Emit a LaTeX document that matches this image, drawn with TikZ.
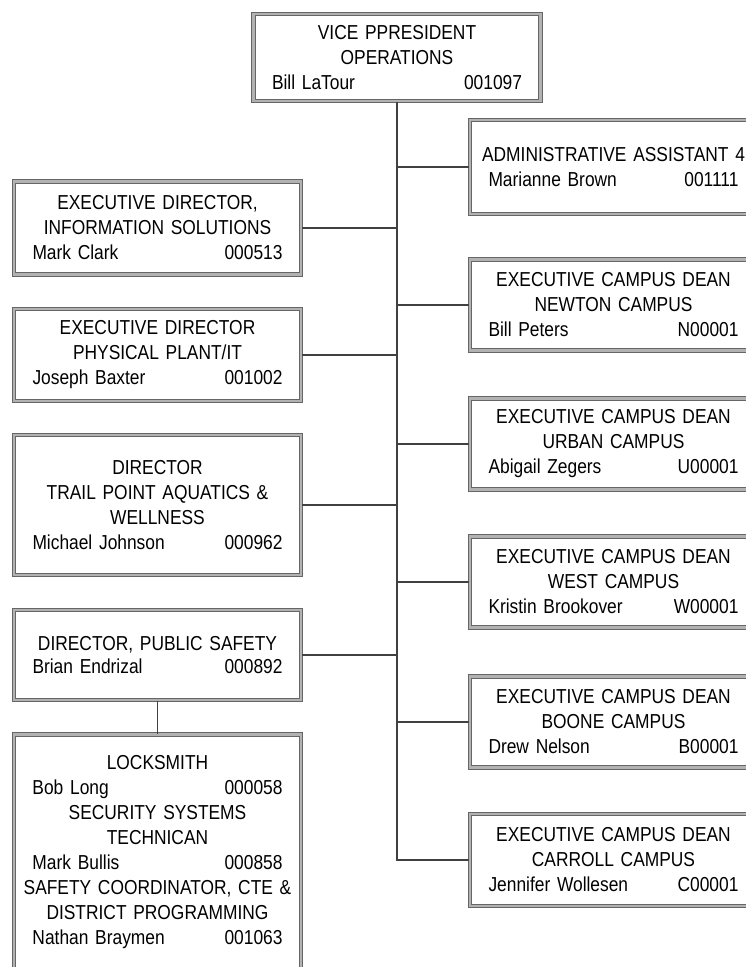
\documentclass[tikz,border=0pt]{standalone}
\usepackage{fontspec}
\setmainfont[FakeStretch=0.86, WordSpace=0.85]{Liberation Sans}
\newcommand\pid[2]{\makebox[250pt]{#1\hfill #2}}
\begin{document}
\begin{tikzpicture}[x=1pt,y=-1pt,
  orgbox/.style={rectangle, draw=black!60, double=black!30, double distance=2.4pt, line width=1.2pt,
    fill=white, minimum width=287pt, inner sep=0pt, text width=272pt, align=center,
    font=\fontsize{20.2}{25}\selectfont},
  link/.style={draw=black!75, line width=1.7pt}]
\useasboundingbox (0,0) rectangle (745,967);
\fill[white] (0,0) rectangle (745,967);

% top
\node[orgbox, minimum height=87pt] (vp) at (397,57.5)
  {VICE PPRESIDENT\\OPERATIONS\\\pid{Bill LaTour}{001097}};

% right column
\node[orgbox, minimum height=94pt] (admin) at (613.5,167)
  {ADMINISTRATIVE ASSISTANT 4\\\pid{Marianne Brown}{001111}};
\node[orgbox, minimum height=91pt] (newton) at (613.5,305)
  {EXECUTIVE CAMPUS DEAN\\NEWTON CAMPUS\\\pid{Bill Peters}{N00001}};
\node[orgbox, minimum height=91pt] (urban) at (613.5,444)
  {EXECUTIVE CAMPUS DEAN\\URBAN CAMPUS\\\pid{Abigail Zegers}{U00001}};
\node[orgbox, minimum height=91pt] (west) at (613.5,582)
  {EXECUTIVE CAMPUS DEAN\\WEST CAMPUS\\\pid{Kristin Brookover}{W00001}};
\node[orgbox, minimum height=91pt] (boone) at (613.5,722)
  {EXECUTIVE CAMPUS DEAN\\BOONE CAMPUS\\\pid{Drew Nelson}{B00001}};
\node[orgbox, minimum height=92pt] (carroll) at (613.5,860)
  {EXECUTIVE CAMPUS DEAN\\CARROLL CAMPUS\\\pid{Jennifer Wollesen}{C00001}};

% left column
\node[orgbox, minimum height=93pt] (is) at (157.5,228)
  {EXECUTIVE DIRECTOR,\\INFORMATION SOLUTIONS\\\pid{Mark Clark}{000513}};
\node[orgbox, minimum height=92pt] (pp) at (157.5,355)
  {EXECUTIVE DIRECTOR\\PHYSICAL PLANT/IT\\\pid{Joseph Baxter}{001002}};
\node[orgbox, minimum height=140pt] (trail) at (157.5,505)
  {DIRECTOR\\TRAIL POINT AQUATICS \&\\WELLNESS\\\pid{Michael Johnson}{000962}};
\node[orgbox, minimum height=90pt, font=\fontsize{20.2}{23}\selectfont] (ps) at (157.5,655)
  {DIRECTOR, PUBLIC SAFETY\\\pid{Brian Endrizal}{000892}};
\node[orgbox, minimum height=236pt] (lock) at (157.5,852.5)
  {LOCKSMITH\\\pid{Bob Long}{000058}\\SECURITY SYSTEMS\\TECHNICAN\\\pid{Mark Bullis}{000858}\\SAFETY COORDINATOR, CTE \&\\DISTRICT PROGRAMMING\\\pid{Nathan Braymen}{001063}};

% connectors
\draw[link] (vp.south) -- (vp.south |- carroll.west) -- (carroll.west);
\foreach \n in {admin,newton,urban,west,boone}
  \draw[link] (vp.south |- \n.west) -- (\n.west);
\foreach \n in {is,pp,trail,ps}
  \draw[link] (\n.east) -- (\n.east -| vp.south);
\draw[link] (ps.south) -- (lock.north);
\end{tikzpicture}
\end{document}
